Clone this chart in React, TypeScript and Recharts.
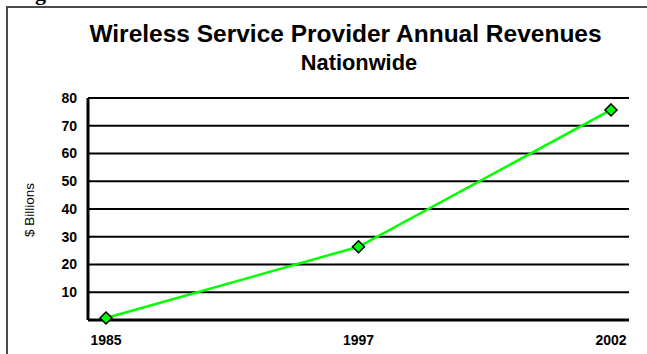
import React from 'react';
import { LineChart, Line, XAxis, YAxis, CartesianGrid } from 'recharts';

const years = ['1985', '1997', '2002'];
const revenues = [0.7, 26.4, 75.7];
const yTicks = [0, 10, 20, 30, 40, 50, 60, 70, 80];

const chartData = years.map((year, i) => ({ year, value: revenues[i] }));

const FONT = '"Liberation Sans", Arial, sans-serif';

const Diamond = (props: any) => {
  const { cx, cy } = props;
  if (cx == null || cy == null) return null;
  const s = 6;
  return (
    <polygon
      points={`${cx},${cy - s} ${cx + s},${cy} ${cx},${cy + s} ${cx - s},${cy}`}
      fill="#00ff00"
      stroke="#000000"
      strokeWidth={1.5}
    />
  );
};

const App: React.FC = () => {
  return (
    <div style={{ position: 'absolute', left: 0, top: 0, width: 647, height: 354, background: '#ffffff' }}>
      <LineChart
        width={647}
        height={354}
        data={chartData}
        margin={{ top: 98, right: 18, bottom: 4, left: 0 }}
      >
        <CartesianGrid vertical={false} stroke="#000000" strokeWidth={2} />
        <XAxis
          dataKey="year"
          padding={{ left: 18, right: 18 }}
          height={30}
          tickLine={false}
          tickMargin={9}
          axisLine={{ stroke: '#000000', strokeWidth: 3 }}
          tick={{ fill: '#000000', fontSize: 14, fontWeight: 700, fontFamily: FONT }}
        />
        <YAxis
          domain={[0, 80]}
          ticks={yTicks}
          width={88}
          tickLine={false}
          tickMargin={5}
          interval={0}
          tickFormatter={(v: number) => (v === 0 ? '' : String(v))}
          axisLine={{ stroke: '#000000', strokeWidth: 3 }}
          tick={{ fill: '#000000', fontSize: 14, fontWeight: 700, fontFamily: FONT }}
        />
        <YAxis
          yAxisId="r"
          orientation="right"
          domain={[0, 80]}
          width={0}
          tick={false}
          tickLine={false}
          axisLine={{ stroke: '#000000', strokeWidth: 2 }}
        />
        <Line
          dataKey="value"
          stroke="#00ff00"
          strokeWidth={2.5}
          dot={<Diamond />}
          activeDot={false}
          isAnimationActive={false}
        />
      </LineChart>
      <svg
        width={647}
        height={354}
        style={{ position: 'absolute', left: 0, top: 0, pointerEvents: 'none' }}
      >
        <line x1={7} y1={7} x2={647} y2={7} stroke="#4a4a4a" strokeWidth={2} />
        <line x1={7} y1={6} x2={7} y2={354} stroke="#4a4a4a" strokeWidth={2} />
        <text x={35} y={0} fontFamily='"Liberation Serif", serif' fontWeight={700} fontSize={22} fill="#000">
          g
        </text>
        <text
          x={345.5}
          y={41.5}
          textAnchor="middle"
          fontFamily={FONT}
          fontWeight={700}
          fontSize={24.5}
          fill="#000"
        >
          Wireless Service Provider Annual Revenues
        </text>
        <text
          x={359}
          y={70}
          textAnchor="middle"
          fontFamily={FONT}
          fontWeight={700}
          fontSize={21.8}
          fill="#000"
        >
          Nationwide
        </text>
        <text
          x={0}
          y={0}
          transform="translate(29,210) rotate(-90)"
          textAnchor="middle"
          dominantBaseline="central"
          fontFamily={FONT}
          fontSize={13.5}
          fill="#000"
        >
          $ Billions
        </text>
      </svg>
    </div>
  );
};

export default App;
